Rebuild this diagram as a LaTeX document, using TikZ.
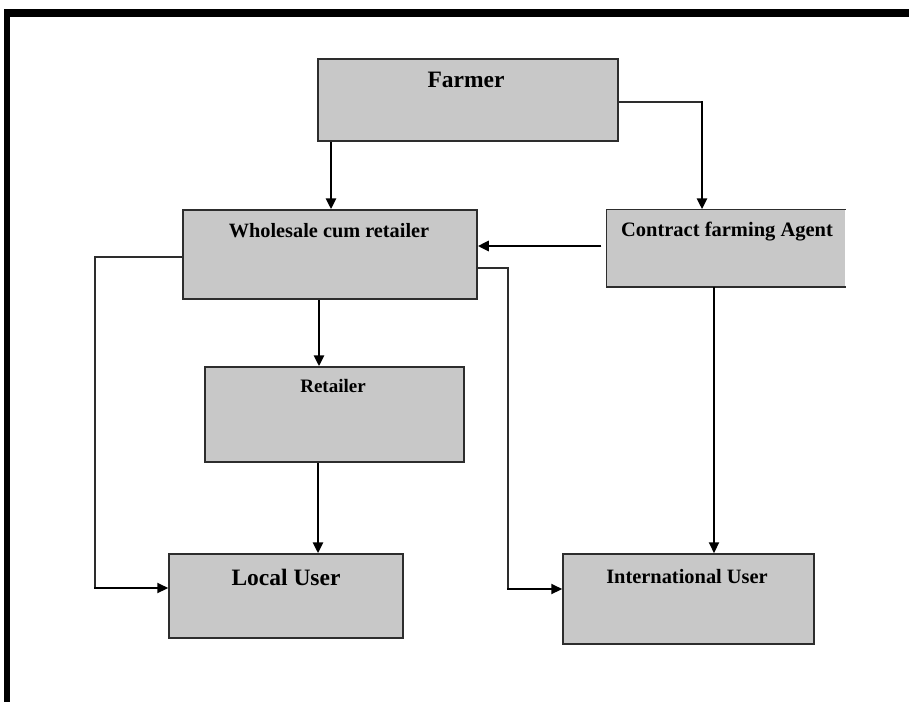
\documentclass[tikz,border=0pt]{standalone}
\usepackage{fontspec}
\setmainfont{Liberation Serif}
\usetikzlibrary{arrows.meta,calc}
\definecolor{boxfill}{RGB}{200,200,200}
\definecolor{edge}{RGB}{45,45,45}
\tikzset{
  box/.style={draw=edge,line width=1.5pt,fill=boxfill,inner sep=0pt,minimum width=#1},
  lbl/.style={anchor=base,inner sep=0pt,font=\bfseries},
  thinline/.style={draw=edge,line width=1.4pt},
  arr/.style={draw=black,line width=2.8pt,-{Triangle[length=11pt,width=10pt]}},
  marr/.style={draw=black,line width=2.1pt,-{Triangle[length=11pt,width=10pt]}},
}
\begin{document}
\begin{tikzpicture}[x=1pt,y=-1pt]
\useasboundingbox (0,0) rectangle (909,702);
% frame
\fill[black] (4,9) rectangle (909,17);
\fill[black] (4,9) rectangle (9.5,702);
% boxes
\node[box=300pt,minimum height=82pt] (F) at (468,100) {};
\node[box=294pt,minimum height=89pt] (W) at (330,254.5) {};
\node[box=238pt,minimum height=76pt,draw=none] (C) at (726,248) {};
\draw[edge,line width=1.5pt] (C.north east) -- (C.north west) -- (C.south west) -- (C.south east);
\node[box=259pt,minimum height=95pt] (R) at (334.5,414.5) {};
\node[box=234pt,minimum height=84pt] (L) at (286,596) {};
\node[box=251pt,minimum height=90pt] (I) at (688.5,599) {};
% labels
\node[lbl,font=\bfseries\fontsize{23.5}{24}\selectfont] (tF) at (466,87) {Farmer};
\node[lbl,font=\bfseries\fontsize{20.3}{21}\selectfont] (tW) at (329,237) {Wholesale cum retailer};
\node[lbl,font=\bfseries\fontsize{20.5}{21}\selectfont] (tC) at (727,236) {Contract farming Agent};
\node[lbl,font=\bfseries\fontsize{19}{19}\selectfont] (tR) at (333,392) {Retailer};
\node[lbl,font=\bfseries\fontsize{23.5}{24}\selectfont] (tL) at (286,585) {Local User};
\node[lbl,font=\bfseries\fontsize{20.4}{21}\selectfont] (tI) at (687,583) {International User};
% connectors
\draw[arr] (F.south -| 331,0) -- (W.north -| 331,0);
\coordinate (fc) at (702,102);
\draw[thinline] (F.east |- 0,102) -- (fc);
\draw[arr] ($(fc)+(0,-1)$) -- (C.north -| fc);
\draw[arr,shorten <=5pt] (C.west |- 0,246) -- (W.east |- 0,246);
\draw[arr] (W.south -| 319,0) -- (R.north -| 319,0);
\draw[arr] (R.south -| 318,0) -- (L.north -| 318,0);
\draw[marr] (C.south -| 714,0) -- (I.north -| 714,0);
\coordinate (wl1) at (95,257);
\coordinate (wl2) at (95,588);
\draw[thinline] (W.west |- wl1) -- (wl1) -- (wl2);
\draw[marr] ($(wl2)+(-0.7,0)$) -- (L.west |- wl2);
\coordinate (wi1) at (508,268);
\coordinate (wi2) at (508,589);
\draw[thinline] (W.east |- wi1) -- (wi1) -- (wi2);
\draw[marr] ($(wi2)+(-0.7,0)$) -- (I.west |- wi2);
\end{tikzpicture}
\end{document}
